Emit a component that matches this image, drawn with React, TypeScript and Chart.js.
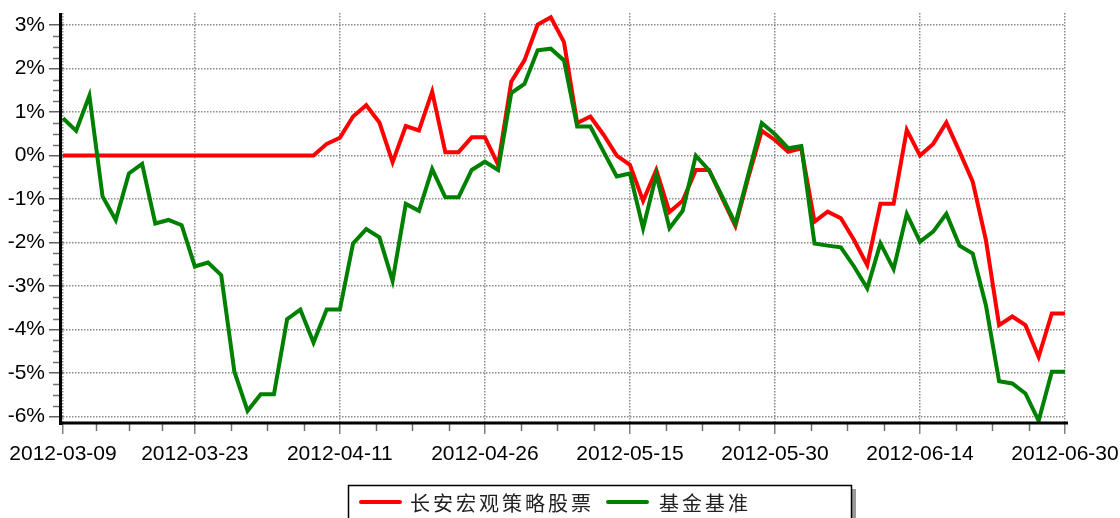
import React, { useEffect, useRef } from 'react';
import { Chart, registerables } from 'chart.js';

Chart.register(...registerables);

const DATES = [
  '2012-03-09', '2012-03-12', '2012-03-13', '2012-03-14', '2012-03-15', '2012-03-16',
  '2012-03-19', '2012-03-20', '2012-03-21', '2012-03-22', '2012-03-23',
  '2012-03-26', '2012-03-27', '2012-03-28', '2012-03-29', '2012-03-30', '2012-03-31',
  '2012-04-05', '2012-04-06', '2012-04-09', '2012-04-10', '2012-04-11',
  '2012-04-12', '2012-04-13', '2012-04-16', '2012-04-17', '2012-04-18', '2012-04-19', '2012-04-20',
  '2012-04-23', '2012-04-24', '2012-04-25', '2012-04-26', '2012-04-27',
  '2012-05-02', '2012-05-03', '2012-05-04', '2012-05-07', '2012-05-08', '2012-05-09', '2012-05-10', '2012-05-11',
  '2012-05-14', '2012-05-15', '2012-05-16', '2012-05-17', '2012-05-18',
  '2012-05-21', '2012-05-22', '2012-05-23', '2012-05-24', '2012-05-25',
  '2012-05-28', '2012-05-29', '2012-05-30', '2012-05-31', '2012-06-01',
  '2012-06-04', '2012-06-05', '2012-06-06', '2012-06-07', '2012-06-08',
  '2012-06-11', '2012-06-12', '2012-06-13', '2012-06-14', '2012-06-15',
  '2012-06-18', '2012-06-19', '2012-06-20', '2012-06-21',
  '2012-06-25', '2012-06-26', '2012-06-27', '2012-06-28', '2012-06-29', '2012-06-30',
];

// 长安宏观策略股票 (%)
const FUND = [
  0, 0, 0, 0, 0, 0, 0, 0, 0, 0,
  0, 0, 0, 0, 0, 0, 0, 0, 0, 0,
  0.27, 0.41, 0.9, 1.16, 0.76, -0.15, 0.68, 0.58, 1.47, 0.08,
  0.08, 0.42, 0.42, -0.21, 1.7, 2.19, 3.01, 3.18, 2.61, 0.75,
  0.9, 0.48, 0.0, -0.21, -1.04, -0.33, -1.3, -1.04, -0.33, -0.33,
  -0.98, -1.62, -0.48, 0.57, 0.36, 0.09, 0.17, -1.52, -1.29, -1.44,
  -1.94, -2.52, -1.11, -1.11, 0.59, 0.0, 0.27, 0.76, 0.09, -0.6,
  -1.94, -3.9, -3.7, -3.9, -4.63, -3.63, -3.63,
];

// 基金基准 (%)
const BENCH = [
  0.86, 0.57, 1.38, -0.94, -1.48, -0.41, -0.19, -1.56, -1.48, -1.6,
  -2.55, -2.46, -2.75, -4.97, -5.87, -5.49, -5.49, -3.76, -3.54, -4.3,
  -3.54, -3.54, -2.02, -1.69, -1.88, -2.88, -1.11, -1.27, -0.31, -0.96,
  -0.96, -0.33, -0.14, -0.33, 1.44, 1.65, 2.42, 2.46, 2.19, 0.67,
  0.67, 0.09, -0.48, -0.41, -1.67, -0.44, -1.67, -1.27, 0.0, -0.34,
  -0.94, -1.57, -0.41, 0.75, 0.49, 0.17, 0.22, -2.02, -2.07, -2.11,
  -2.55, -3.05, -2.02, -2.61, -1.34, -1.98, -1.75, -1.34, -2.07, -2.25,
  -3.44, -5.19, -5.24, -5.47, -6.1, -4.97, -4.97,
];

const X_LABEL_IDX = [0, 10, 21, 32, 43, 54, 65, 76];
const Y_TICKS = [-6, -5, -4, -3, -2, -1, 0, 1, 2, 3];
const Y_MIN = -6.15;
const Y_MAX = 3.28;
const SERIES_NAMES = ['长安宏观策略股票', '基金基准'];
const SERIES_COLORS = ['#ff0000', '#008000'];

const AXIS_FONT = 'Liberation Sans, Arial, sans-serif';

const decorPlugin = {
  id: 'decor',
  afterDatasetsDraw(chart: any) {
    const { ctx, chartArea: a, scales } = chart;
    const x = scales.x;
    const y = scales.y;
    ctx.save();
    ctx.strokeStyle = '#707070';
    ctx.lineWidth = 1.5;
    ctx.beginPath();
    for (let k = 0; k < Y_TICKS.length - 1; k++) {
      for (let q = 1; q < 4; q++) {
        const v = Y_TICKS[k] + (q * (Y_TICKS[k + 1] - Y_TICKS[k])) / 4;
        const py = Math.round(y.getPixelForValue(v)) + 0.5;
        ctx.moveTo(a.left - 10, py);
        ctx.lineTo(a.left - 3, py);
      }
    }
    for (let k = 0; k < X_LABEL_IDX.length - 1; k++) {
      for (let q = 1; q < 4; q++) {
        const v = X_LABEL_IDX[k] + (q * (X_LABEL_IDX[k + 1] - X_LABEL_IDX[k])) / 4;
        const px = Math.round(x.getPixelForValue(v)) + 0.5;
        ctx.moveTo(px, a.bottom);
        ctx.lineTo(px, a.bottom + 8);
      }
    }
    ctx.stroke();
    ctx.fillStyle = '#000';
    ctx.fillRect(a.left - 4, a.top, 3, a.bottom - a.top + 2);
    ctx.fillRect(a.left - 4, a.bottom - 1.5, a.right - a.left + 7, 3);
    ctx.restore();
  },
  afterDraw(chart: any) {
    const { ctx } = chart;
    ctx.save();
    // legend frame with shadow
    ctx.fillStyle = '#9a9a9a';
    ctx.fillRect(852, 489, 4, 40);
    ctx.strokeStyle = '#000';
    ctx.lineWidth = 1.5;
    ctx.strokeRect(348.5, 485.5, 503, 50);
    const items = [
      { lx: 361, tx: 410 },
      { lx: 608, tx: 659 },
    ];
    chart.data.datasets.forEach((ds: any, i: number) => {
      const it = items[i];
      ctx.strokeStyle = ds.borderColor;
      ctx.lineWidth = 4;
      ctx.lineCap = 'round';
      ctx.beginPath();
      ctx.moveTo(it.lx, 502);
      ctx.lineTo(it.lx + 39, 502);
      ctx.stroke();
      ctx.fillStyle = '#222';
      ctx.font = '20px "Noto Sans CJK SC"';
      (ctx as any).letterSpacing = '3px';
      ctx.textBaseline = 'middle';
      ctx.textAlign = 'left';
      ctx.fillText(ds.label, it.tx, 503);
    });
    ctx.restore();
  },
};

export default function App() {
  const ref = useRef<HTMLCanvasElement | null>(null);
  useEffect(() => {
    if (!ref.current) return;
    const chart = new Chart(ref.current, {
      type: 'line',
      data: {
        labels: DATES,
        datasets: [
          {
            label: SERIES_NAMES[0],
            data: FUND,
            borderColor: SERIES_COLORS[0],
            backgroundColor: SERIES_COLORS[0],
            borderWidth: 4,
            pointRadius: 0,
            tension: 0,
            fill: false,
            order: 1,
          },
          {
            label: SERIES_NAMES[1],
            data: BENCH,
            borderColor: SERIES_COLORS[1],
            backgroundColor: SERIES_COLORS[1],
            borderWidth: 4,
            pointRadius: 0,
            tension: 0,
            fill: false,
            order: 0,
          },
        ],
      },
      options: {
        responsive: false,
        animation: false,
        layout: { padding: { top: 13, right: 55, left: 0, bottom: 0 } },
        plugins: {
          legend: { display: false },
          tooltip: { enabled: false },
        },
        scales: {
          x: {
            type: 'category',
            offset: false,
            afterBuildTicks: (s: any) => {
              s.ticks = X_LABEL_IDX.map((v) => ({ value: v }));
            },
            afterFit: (s: any) => {
              s.height = 95;
              s.paddingLeft = 0;
              s.paddingRight = 0;
            },
            grid: {
              color: '#8a8a8a',
              lineWidth: 1.5,
              tickLength: 11,
              tickColor: '#808080',
              tickWidth: 1.5,
              tickBorderDash: [],
            },
            border: { display: false, dash: [1.5, 1.5] },
            ticks: {
              autoSkip: false,
              maxRotation: 0,
              minRotation: 0,
              padding: 8,
              color: '#000',
              font: { family: AXIS_FONT, size: 21 },
            },
          },
          y: {
            min: Y_MIN,
            max: Y_MAX,
            afterBuildTicks: (s: any) => {
              s.ticks = Y_TICKS.map((v) => ({ value: v }));
            },
            afterFit: (s: any) => {
              s.width = 63;
              s.paddingTop = 0;
              s.paddingBottom = 0;
            },
            grid: {
              color: '#8a8a8a',
              lineWidth: 1.5,
              tickLength: 14,
              tickColor: '#606060',
              tickWidth: 1.5,
              tickBorderDash: [],
            },
            border: { display: false, dash: [1.5, 1.5] },
            ticks: {
              padding: 4,
              color: '#000',
              font: { family: AXIS_FONT, size: 21 },
              callback: (v: any) => `${v}%`,
            },
          },
        },
      },
      plugins: [decorPlugin],
    });
    return () => chart.destroy();
  }, []);
  return (
    <div style={{ position: 'fixed', left: 0, top: 0, width: 1120, height: 518, background: '#fff' }}>
      <canvas ref={ref} width={1120} height={518} style={{ display: 'block' }} />
    </div>
  );
}
